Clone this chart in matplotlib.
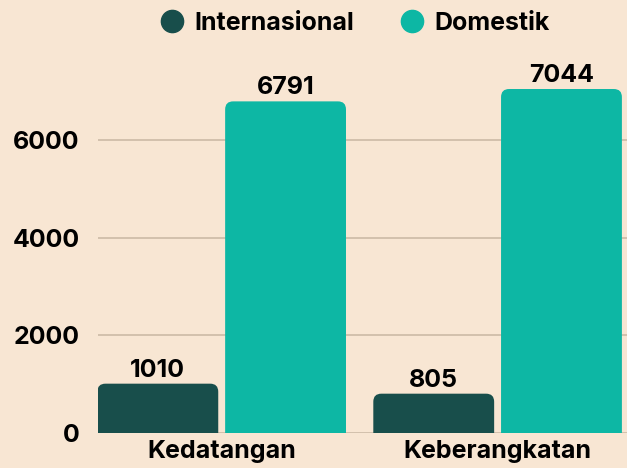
import matplotlib.pyplot as plt
from matplotlib.patches import FancyBboxPatch
from matplotlib.lines import Line2D

categories = ['Kedatangan', 'Keberangkatan']
internasional = [1010, 805]
domestik = [6791, 7044]
series_names = ['Internasional', 'Domestik']
yticks = [0, 2000, 4000, 6000]

bg = '#F8E6D3'
c_int = '#184E4B'
c_dom = '#0DB7A4'
plt.rcParams['font.family'] = ['Inter', 'DejaVu Sans']
plt.rcParams['font.weight'] = 'bold'
fs = 18

fig = plt.figure(figsize=(6.27, 4.68), dpi=100, facecolor=bg)
ax = fig.add_axes([0.156, 0.0748, 0.844, 0.793])
ax.set_facecolor(bg)

ymax = 7600
ax.set_ylim(0, ymax)
ax.set_xlim(-0.449, 1.469)

width = 0.438
offset = 0.2315
# px per data unit, for the corner radius aspect
px_x = 276.0
px_y = 371.0 / ymax
radius = 8 / px_x
aspect = px_x / px_y

def rounded_bar(x, h, color):
    p = FancyBboxPatch((x - width / 2, -400), width, h + 400,
                       boxstyle='round,pad=0,rounding_size=%f' % radius,
                       mutation_aspect=aspect, facecolor=color,
                       edgecolor='none', zorder=3)
    ax.add_patch(p)
    ax.annotate(str(h), (x, h), xytext=(0, 5), textcoords='offset points',
                ha='center', va='baseline', fontsize=fs, fontweight='bold',
                color='black', zorder=4)

for i in range(len(categories)):
    rounded_bar(i - offset, internasional[i], c_int)
    rounded_bar(i + offset, domestik[i], c_dom)

for y in yticks:
    ax.axhline(y, color='#C9B6A2', lw=1.1, zorder=1)

ax.set_yticks(yticks)
ax.set_yticklabels([str(t) for t in yticks], fontsize=fs, fontweight='bold')
ax.set_xticks(range(len(categories)))
ax.set_xticklabels(categories, fontsize=fs, fontweight='bold')
ax.tick_params(axis='y', length=0, pad=13)
ax.tick_params(axis='x', length=0, pad=5)
for s in ax.spines.values():
    s.set_visible(False)

handles = [Line2D([], [], marker='o', ls='none', markersize=16, color=c)
           for c in [c_int, c_dom]]
fig.legend(handles, series_names, loc='center', bbox_to_anchor=(0.563, 0.95),
           ncol=2, frameon=False, prop={'size': fs, 'weight': 'bold'},
           handlelength=1.2, handletextpad=0.3, columnspacing=1.7)

fig.savefig('out.png', dpi=100, facecolor=bg)
